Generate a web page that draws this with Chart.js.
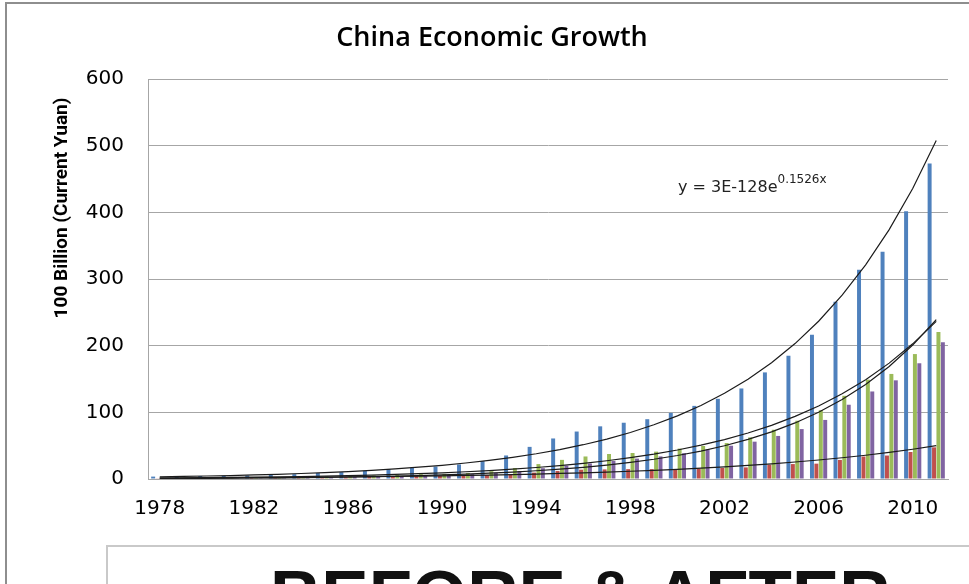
<!DOCTYPE html>
<html>
<head>
<meta charset="utf-8">
<script src="https://cdn.jsdelivr.net/npm/chart.js@4.4.0/dist/chart.umd.min.js"></script>
<style>
    html, body { margin: 0; padding: 0; background: #fff; }
    #wrap { position: relative; width: 969px; height: 584px; overflow: hidden; }
    #frame { position: absolute; left: 5px; top: 2px; width: 2000px; height: 2000px;
             border-top: 2px solid #8e8e8e; border-left: 2px solid #8e8e8e; }
    canvas { position: absolute; left: 0; top: 0; }
    #banner { position: absolute; left: 106px; top: 545px; width: 1000px; height: 200px;
              border: 2px solid #c9c9c9; background: #fff; }
    #banner span { position: absolute; left: 162px; top: 8px; line-height: 70px;
                   font: bold 71px 'Liberation Sans', Arial, sans-serif; color: #111; white-space: nowrap; }
</style>
</head>
<body>
<div id="wrap">
    <div id="frame"></div>
    <canvas id="chart" width="969" height="584"></canvas>
    <div id="banner"><span>BEFORE &amp; AFTER</span></div>
</div>
<script>
// Dados (100 bilhões de yuan, preços correntes)
const years = ['1978', '1979', '1980', '1981', '1982', '1983', '1984', '1985', '1986', '1987',
    '1988', '1989', '1990', '1991', '1992', '1993', '1994', '1995', '1996', '1997',
    '1998', '1999', '2000', '2001', '2002', '2003', '2004', '2005', '2006', '2007',
    '2008', '2009', '2010', '2011'];
const gdp = [3.6, 4.1, 4.5, 4.9, 5.3, 6.0, 7.2, 9.0, 10.3, 12.1,
    15.0, 17.0, 18.7, 21.8, 26.9, 35.3, 48.2, 60.8, 71.2, 79.0,
    84.4, 89.7, 99.2, 109.7, 120.3, 135.8, 159.9, 184.9, 216.3, 265.8,
    314.0, 340.9, 401.5, 473.1];
const primary = [1.0, 1.3, 1.4, 1.6, 1.8, 2.0, 2.3, 2.6, 2.8, 3.2,
    3.9, 4.3, 5.1, 5.3, 5.9, 7.0, 9.6, 12.1, 14.0, 14.4,
    14.8, 14.8, 14.9, 15.8, 16.5, 17.4, 21.4, 22.4, 23.0, 28.6,
    33.7, 35.2, 40.5, 47.5];
const secondary = [1.7, 1.9, 2.2, 2.3, 2.4, 2.6, 3.1, 3.9, 4.5, 5.3,
    6.6, 7.3, 7.7, 9.1, 11.7, 16.5, 22.4, 28.7, 33.8, 37.5,
    39.0, 41.0, 45.6, 49.5, 53.9, 62.4, 73.9, 87.4, 103.2, 124.8,
    149.0, 157.6, 187.4, 220.4];
const tertiary = [0.9, 0.9, 1.0, 1.1, 1.2, 1.3, 1.8, 2.6, 3.0, 3.6,
    4.6, 5.4, 5.9, 7.3, 9.4, 11.9, 16.2, 20.0, 23.3, 27.0,
    30.6, 33.9, 38.7, 44.4, 49.9, 56.0, 64.6, 74.9, 88.6, 111.4,
    131.3, 148.0, 173.6, 205.0];
const yMax = 600;
const yStep = 100;

// Linha de tendência exponencial (mínimos quadrados em ln y, como no Excel)
function expTrend(values) {
    const n = values.length;
    let sx = 0, sy = 0, sxx = 0, sxy = 0;
    values.forEach((v, i) => {
        const x = i + 1, y = Math.log(v);
        sx += x; sy += y; sxx += x * x; sxy += x * y;
    });
    const b = (n * sxy - sx * sy) / (n * sxx - sx * sx);
    const a = (sy - b * sx) / n;
    return values.map((v, i) => Math.exp(a + b * (i + 1)));
}

function trendSet(values) {
    return {
        type: 'line',
        data: expTrend(values),
        borderColor: '#1c1c1c',
        borderWidth: 1.2,
        pointRadius: 0,
        fill: false,
        order: 1
    };
}

// Textos extras: título, título do eixo y e equação
const extraText = {
    id: 'extraText',
    afterDraw(chart) {
        const ctx = chart.ctx;
        ctx.save();
        ctx.fillStyle = '#000';
        ctx.textAlign = 'center';
        ctx.textBaseline = 'middle';
        ctx.font = '600 27px "Open Sans"';
        ctx.fillText('China Economic Growth', 492, 38);

        ctx.save();
        ctx.translate(62, 208);
        ctx.rotate(-Math.PI / 2);
        ctx.font = 'bold 19px Roboto';
        ctx.fillText('100 Billion (Current Yuan)', 0, 0);
        ctx.restore();

        ctx.textAlign = 'left';
        ctx.textBaseline = 'alphabetic';
        ctx.fillStyle = '#222';
        ctx.font = '16px "DejaVu Sans"';
        const main = 'y = 3E-128e';
        ctx.fillText(main, 678, 192);
        const w = ctx.measureText(main).width;
        ctx.font = '12px "DejaVu Sans"';
        ctx.fillText('0.1526x', 678 + w, 183);
        ctx.restore();
    }
};

document.addEventListener('DOMContentLoaded', function() {
    const tickFont = { family: 'DejaVu Sans', size: 20 };
    const ctx = document.getElementById('chart').getContext('2d');
    new Chart(ctx, {
        data: {
            labels: years,
            datasets: [
                { type: 'bar', label: 'GDP', data: gdp, backgroundColor: '#4F81BD', order: 2 },
                { type: 'bar', label: 'Primary', data: primary, backgroundColor: '#C0504D', order: 2 },
                { type: 'bar', label: 'Secondary', data: secondary, backgroundColor: '#9BBB59', order: 2 },
                { type: 'bar', label: 'Tertiary', data: tertiary, backgroundColor: '#8064A2', order: 2 },
                trendSet(gdp),
                trendSet(primary),
                trendSet(secondary),
                trendSet(tertiary)
            ]
        },
        options: {
            responsive: false,
            animation: false,
            layout: { padding: { top: 79, right: 21, left: 0, bottom: 0 } },
            datasets: { bar: { categoryPercentage: 0.75, barPercentage: 0.9 } },
            plugins: {
                legend: { display: false },
                tooltip: { enabled: false },
                title: { display: false }
            },
            scales: {
                x: {
                    grid: { display: false, drawTicks: false },
                    border: { color: '#a6a6a6' },
                    ticks: {
                        autoSkip: false,
                        maxRotation: 0,
                        padding: 18,
                        color: '#000',
                        font: tickFont,
                        callback: (v, i) => (i % 4 === 0 ? years[i] : '')
                    },
                    afterFit: s => { s.height = 105; }
                },
                y: {
                    min: 0,
                    max: yMax,
                    grid: { color: '#a6a6a6', drawTicks: false },
                    border: { color: '#a6a6a6' },
                    ticks: { stepSize: yStep, padding: 24, color: '#000', font: tickFont },
                    afterFit: s => { s.width = 148; }
                }
            }
        },
        plugins: [extraText]
    });
});
</script>
</body>
</html>
